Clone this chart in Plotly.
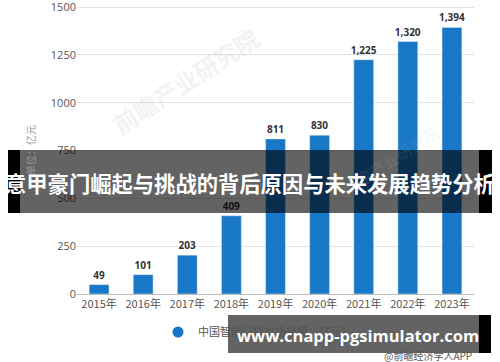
import plotly.graph_objects as go

years = ["2015年", "2016年", "2017年", "2018年", "2019年", "2020年", "2021年", "2022年", "2023年"]
values = [49, 101, 203, 409, 811, 830, 1225, 1320, 1394]
series_name = "中国智能门锁市场规模（亿元）"
y_ticks = [0, 250, 500, 750, 1000, 1250, 1500]
banner_text = "意甲豪门崛起与挑战的背后原因与未来发展趋势分析"
url_text = "www.cnapp-pgsimulator.com"
source_text = "@前瞻经济学人APP"

W, H = 500, 362
L, R, T, B = 77, 26, 6, 68
PW, PH = W - L - R, H - T - B

def px(x):
    return (x - L) / PW

def py(y):
    return (H - B - y) / PH

CJK = "Noto Sans CJK SC"
BLUE = "#1877c6"

fig = go.Figure()
fig.add_trace(go.Bar(
    x=years, y=values, marker_color=BLUE, showlegend=False,
    texttemplate="%{y:,}", textposition="outside", cliponaxis=False, constraintext="none",
    textfont=dict(family="Open Sans", size=10, color="#333333", weight="bold"),
))
fig.add_trace(go.Scatter(
    x=[None], y=[None], mode="markers", name=series_name,
    marker=dict(symbol="circle", size=11, color=BLUE), showlegend=True,
))

shapes = []
# middle banner
shapes.append(dict(type="rect", xref="paper", yref="paper", x0=px(20), x1=px(479), y0=py(213), y1=py(150),
                   fillcolor="rgba(0,0,0,0.61)", line_width=0, layer="above"))
shapes.append(dict(type="rect", xref="paper", yref="paper", x0=px(8), x1=px(20), y0=py(213), y1=py(150),
                   fillcolor="black", line_width=0, layer="above"))
shapes.append(dict(type="rect", xref="paper", yref="paper", x0=px(479), x1=px(492), y0=py(213), y1=py(150),
                   fillcolor="black", line_width=0, layer="above"))
# bottom banner
shapes.append(dict(type="rect", xref="paper", yref="paper", x0=px(228), x1=px(479), y0=py(353), y1=py(315),
                   fillcolor="rgba(0,0,0,0.61)", line_width=0, layer="above"))
shapes.append(dict(type="rect", xref="paper", yref="paper", x0=px(479), x1=px(491), y0=py(353), y1=py(315),
                   fillcolor="black", line_width=0, layer="above"))

def ann(text, x, y, font, angle=0, xanchor="center"):
    return dict(text=text, x=x, y=y, xref="paper", yref="paper", showarrow=False,
                xanchor=xanchor, yanchor="middle", textangle=angle, font=font)

annotations = [
    ann("前瞻产业研究院", px(185), py(80), dict(family=CJK, size=24, color="rgba(190,190,190,0.2)", weight="bold"), -33),
    ann("前瞻产业研究院", px(390), py(160), dict(family=CJK, size=16, color="rgba(190,190,190,0.15)"), -33),
    ann("单位：亿元", px(30), py(150), dict(family=CJK, size=10, color="#999999"), -90),
    ann(banner_text, px(250), py(182), dict(family=CJK, size=21.3, color="white", weight="bold")),
    ann(url_text, px(358), py(335), dict(family="Open Sans", size=16.5, color="white", weight="bold")),
    ann(source_text, 1.0, py(355), dict(family=CJK, size=10, color="#555555"), xanchor="right"),
]

fig.update_layout(
    width=W, height=H,
    margin=dict(l=L, r=R, t=T, b=B, autoexpand=False),
    paper_bgcolor="white", plot_bgcolor="white",
    bargap=0.55,
    font=dict(family=CJK, size=11, color="#555555"),
    xaxis=dict(showgrid=False, showline=True, linecolor="#bbbbbb", linewidth=1,
               ticks="", tickfont=dict(family=CJK, size=11, color="#555555")),
    yaxis=dict(range=[0, 1506], tickvals=y_ticks, showgrid=True, gridcolor="#e2e2e2",
               zeroline=False, showline=False, ticks="", ticklabeloverflow="allow",
               tickfont=dict(family="Open Sans", size=11, color="#555555")),
    legend=dict(orientation="h", x=px(158), y=py(332), xanchor="left", yanchor="middle",
                font=dict(family=CJK, size=11, color="#555555"), itemwidth=30,
                bgcolor="rgba(0,0,0,0)"),
    shapes=shapes,
    annotations=annotations,
)

fig.write_html("out.html")
